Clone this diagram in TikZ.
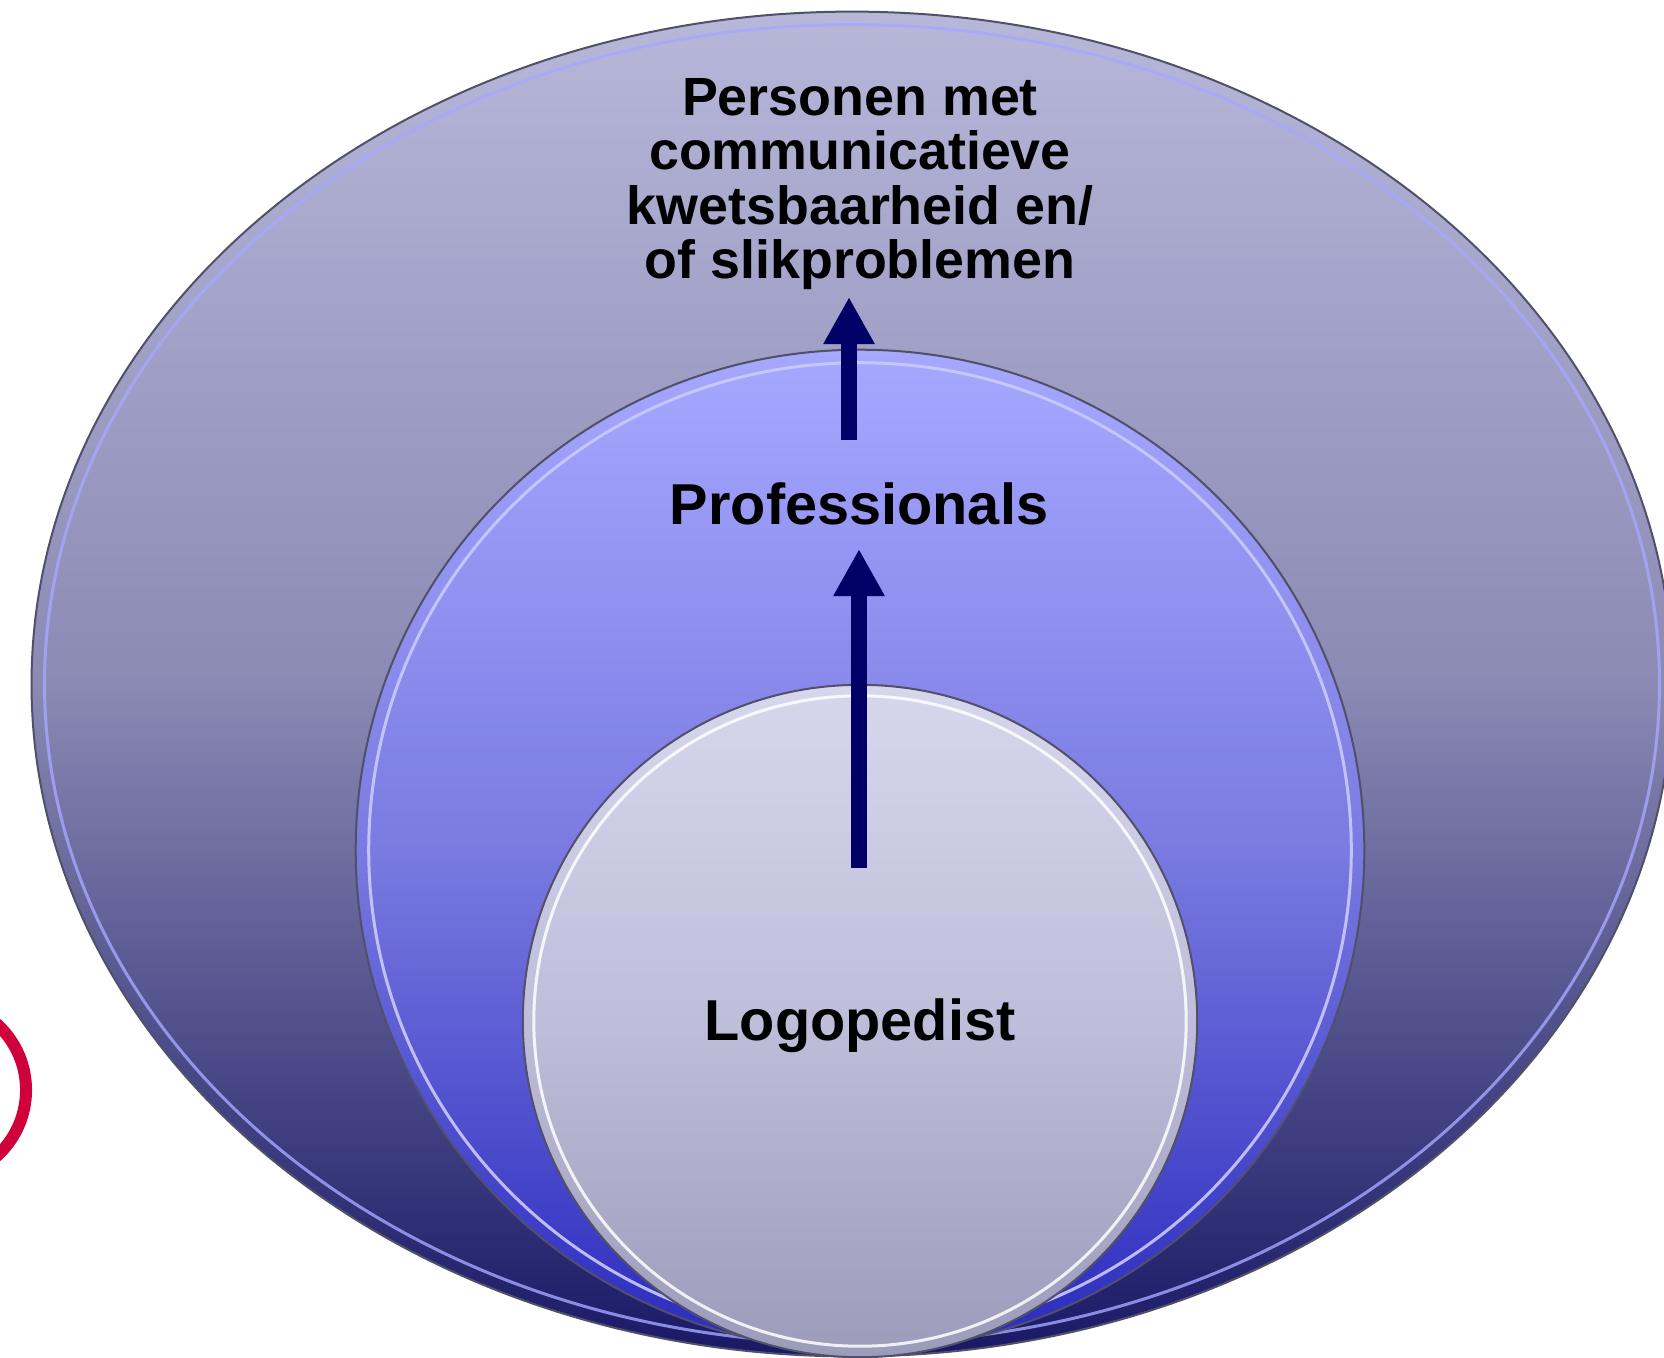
\documentclass[tikz,border=0pt]{standalone}
\usepackage{fontspec}
\setmainfont{Liberation Sans}
\usetikzlibrary{shapes.geometric,arrows.meta}
\definecolor{outTop}{RGB}{183,183,218}
\definecolor{outMid}{RGB}{138,138,180}
\definecolor{outBot}{RGB}{24,24,102}
\definecolor{midTop}{RGB}{166,168,255}
\definecolor{midMid}{RGB}{122,122,225}
\definecolor{midBot}{RGB}{42,42,190}
\definecolor{inTop}{RGB}{214,214,236}
\definecolor{inMid}{RGB}{190,190,218}
\definecolor{inBot}{RGB}{155,155,186}
\definecolor{navy}{RGB}{0,0,102}
\definecolor{ringred}{RGB}{208,0,58}
\definecolor{edgegray}{RGB}{80,80,105}
\begin{document}
\begin{tikzpicture}[x=0.01cm,y=-0.01cm,
  blob/.style={ellipse, inner sep=0pt, outer sep=0pt, draw=edgegray, line width=0.02cm},
  bevel/.style={ellipse, inner sep=0pt, outer sep=0pt, draw=white, draw opacity=0.55, line width=0.03cm},
  arr/.style={draw=navy, line width=0.16cm, -{Triangle[width=0.48cm,length=0.47cm]}},
  lbl/.style={inner sep=0pt, font=\bfseries\fontsize{16.4}{18}\selectfont},
]
\useasboundingbox (0,0) rectangle (1664,1357);
% outer ellipse
\node[blob, minimum width=16.4cm, minimum height=13.44cm,
  top color=outTop, bottom color=outBot, middle color=outMid] (outer) at (852,684) {};
\node[bevel, minimum width=16.14cm, minimum height=13.18cm, draw=midTop, draw opacity=0.8] (outerhl) at (852,684) {};
% middle ellipse
\node[blob, minimum width=10.08cm, minimum height=10.0cm,
  top color=midTop, bottom color=midBot, middle color=midMid] (middle) at (860,850) {};
\node[bevel, minimum width=9.82cm, minimum height=9.74cm, draw=midTop!60!white, draw opacity=0.9] (middlehl) at (860,850) {};
% inner circle
\node[blob, minimum width=6.74cm, minimum height=6.72cm,
  top color=inTop, bottom color=inBot, middle color=inMid] (inner) at (860,1021) {};
\node[bevel, minimum width=6.52cm, minimum height=6.50cm, draw opacity=0.85] (innerhl) at (860,1021) {};
% red ring at left edge
\node[circle, draw=ringred, line width=0.12cm, minimum size=1.78cm, inner sep=0pt] (ring) at (-63,1090) {};
% texts
\node[inner sep=0pt, anchor=north, align=center, font=\bfseries\fontsize{15.3}{15.4}\selectfont] (who) at (860,78)
  {Personen met\\communicatieve\\kwetsbaarheid en/\\of slikproblemen};
\node[lbl, anchor=base] (prof) at (859,524) {Professionals};
\node[lbl, anchor=base] (logo) at (860,1040) {Logopedist};
% arrows
\coordinate (a1s) at (849,440);
\coordinate (a1e) at (849,297);
\coordinate (a2s) at (859,868);
\coordinate (a2e) at (859,549);
\draw[arr] (a2s) -- (a2e);
\draw[arr] (a1s) -- (a1e);
\end{tikzpicture}
\end{document}
